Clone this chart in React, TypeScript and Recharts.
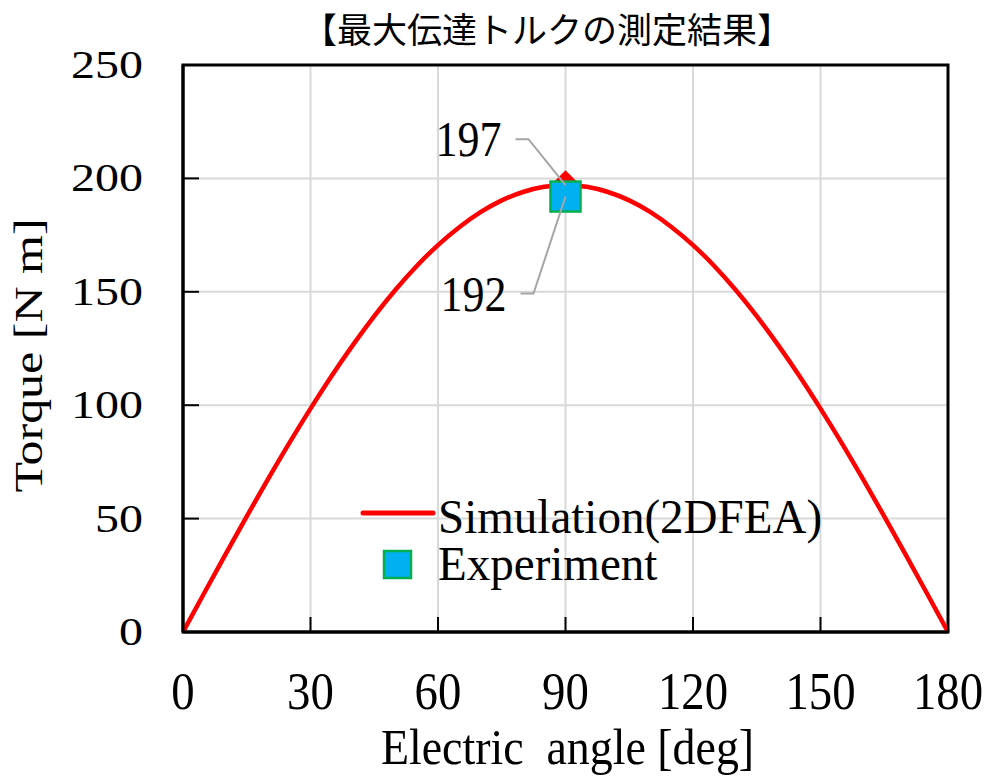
import React from 'react';
import { ComposedChart, Line, Scatter, XAxis, YAxis, CartesianGrid, ReferenceArea, Legend } from 'recharts';

// Simulated torque curve (2D FEA), every 5 deg
const angles = [0, 5, 10, 15, 20, 25, 30, 35, 40, 45, 50, 55, 60, 65, 70, 75, 80, 85, 90,
  95, 100, 105, 110, 115, 120, 125, 130, 135, 140, 145, 150, 155, 160, 165, 170, 175, 180];
const simTorque = [0, 17.2, 34.2, 51.0, 67.4, 83.3, 98.5, 113.0, 126.6, 139.3, 150.9, 161.4, 170.6, 178.5,
  185.1, 190.3, 194.0, 196.3, 197, 196.3, 194.0, 190.3, 185.1, 178.5, 170.6, 161.4, 150.9, 139.3, 126.6,
  113.0, 98.5, 83.3, 67.4, 51.0, 34.2, 17.2, 0];

// Peak of simulation and measured value
const peakAngle = [90];
const peakTorque = [197];
const expAngle = [90];
const expTorque = [192];

const xTicks = [0, 30, 60, 90, 120, 150, 180];
const yTicks = [0, 50, 100, 150, 200, 250];

const title = '【最大伝達トルクの測定結果】';
const xTitle = 'Electric  angle [deg]';
const yTitle = 'Torque [N m]';
const simName = 'Simulation(2DFEA)';
const expName = 'Experiment';

const simData = angles.map((a, i) => ({ angle: a, torque: simTorque[i] }));
const peakData = peakAngle.map((a, i) => ({ angle: a, torque: peakTorque[i] }));
const expData = expAngle.map((a, i) => ({ angle: a, torque: expTorque[i] }));

const SERIF = '"Liberation Serif", "Times New Roman", serif';
const RED = '#ff0000';
const BLUE = '#00b0f0';
const GREEN = '#00b050';
const GRID = '#d9d9d9';
const LEADER = '#a6a6a6';

const XTick = (props: any) => {
  const { x, y, payload } = props;
  return (
    <g>
      <line x1={x} y1={y} x2={x} y2={y - 15} stroke="#000" strokeWidth={2} />
      <text transform={`translate(${x},${y + 77}) scale(0.9,1)`} textAnchor="middle"
        fontFamily={SERIF} fontSize={52} fill="#000">{payload.value}</text>
    </g>
  );
};

const YTick = (props: any) => {
  const { x, y, payload } = props;
  return (
    <g>
      <line x1={x} y1={y} x2={x + 16} y2={y} stroke="#000" strokeWidth={2} />
      <text transform={`translate(${x - 40},${y + 13}) scale(1.2,1)`} textAnchor="end"
        fontFamily={SERIF} fontSize={40} fill="#000">{payload.value}</text>
    </g>
  );
};

const XTitle = ({ viewBox }: any) => (
  <text transform={`translate(${viewBox.x + viewBox.width / 2 + 2},${viewBox.y + 132}) scale(0.9,1)`}
    textAnchor="middle" fontFamily={SERIF} fontSize={51} fill="#000" style={{ whiteSpace: 'pre' }}>{xTitle}</text>
);

const YTitle = ({ viewBox }: any) => (
  <text transform={`translate(42,${viewBox.y + viewBox.height / 2 + 7}) rotate(-90) scale(1.25,1)`}
    textAnchor="middle" fontFamily={SERIF} fontSize={40} fill="#000">{yTitle}</text>
);

const Diamond = ({ cx, cy }: any) => (
  <path d={`M${cx},${cy - 15} L${cx + 15},${cy} L${cx},${cy + 15} L${cx - 15},${cy} Z`} fill={RED} />
);

const Square = ({ cx, cy }: any) => (
  <rect x={cx - 15} y={cy - 15} width={30} height={30} fill={BLUE} stroke={GREEN} strokeWidth={2.5} />
);

// callout: value text with a bent gray leader to the point
const callout = (dir: 'up' | 'down') => ({ cx, cy, payload }: any) => {
  const ly = dir === 'up' ? cy - 46 : cy + 97;
  const kx = dir === 'up' ? cx - 37 : cx - 32;
  return (
    <g>
      <polyline points={`${cx},${cy} ${kx},${ly} ${kx - 13},${ly}`} fill="none" stroke={LEADER} strokeWidth={2} />
      <text transform={`translate(${kx - 27},${ly + 17}) scale(0.88,1)`} textAnchor="end"
        fontFamily={SERIF} fontSize={50} fill="#000">{payload.torque}</text>
    </g>
  );
};

const LegendBox = () => (
  <svg width={520} height={110} style={{ overflow: 'visible', display: 'block' }}>
    <line x1={8} y1={33} x2={78} y2={33} stroke={RED} strokeWidth={5} strokeLinecap="round" />
    <text transform="translate(83,53) scale(0.98,1)" fontFamily={SERIF} fontSize={48} fill="#000">{simName}</text>
    <rect x={29} y={71} width={27} height={27} fill={BLUE} stroke={GREEN} strokeWidth={2.5} />
    <text transform="translate(83,100) scale(0.98,1)" fontFamily={SERIF} fontSize={48} fill="#000">{expName}</text>
  </svg>
);

export default function App() {
  return (
    <div style={{ position: 'absolute', left: 0, top: 0, width: 993, height: 776, background: '#fff' }}>
      <ComposedChart width={993} height={776} margin={{ top: 65, right: 45, bottom: 0, left: 0 }}>
        <CartesianGrid stroke={GRID} strokeWidth={2} />
        <XAxis type="number" dataKey="angle" domain={[0, 180]} ticks={xTicks} height={144}
          tickSize={0} tickMargin={0} tick={<XTick />} axisLine={{ stroke: '#000', strokeWidth: 3 }}
          tickLine={false} label={<XTitle />} />
        <YAxis type="number" dataKey="torque" domain={[0, 250]} ticks={yTicks} width={183}
          tickSize={0} tickMargin={0} tick={<YTick />} axisLine={{ stroke: '#000', strokeWidth: 3 }}
          tickLine={false} label={<YTitle />} />
        <ReferenceArea x1={0} x2={180} y1={0} y2={250} fill="none" stroke="#000" strokeWidth={3} />
        <Line data={simData} dataKey="torque" name={simName} type="natural" stroke={RED} strokeWidth={4.5}
          dot={false} isAnimationActive={false} />
        <Scatter data={peakData} dataKey="torque" shape={<Diamond />} legendType="none" isAnimationActive={false} />
        <Scatter data={expData} dataKey="torque" name={expName} shape={<Square />} isAnimationActive={false} />
        <Scatter data={peakData} dataKey="torque" shape={callout('up')} legendType="none" isAnimationActive={false} />
        <Scatter data={expData} dataKey="torque" shape={callout('down')} legendType="none" isAnimationActive={false} />
        <Legend content={<LegendBox />} layout="horizontal" verticalAlign="middle" align="center"
          wrapperStyle={{ left: 355, top: 480, width: 520, height: 110 }} />
      </ComposedChart>
      <svg width={993} height={60} style={{ position: 'absolute', left: 0, top: 0, pointerEvents: 'none' }}>
        <text x={547} y={43} textAnchor="middle" fontFamily='"Noto Sans CJK JP", sans-serif' fontSize={35} fill="#000">{title}</text>
      </svg>
    </div>
  );
}
